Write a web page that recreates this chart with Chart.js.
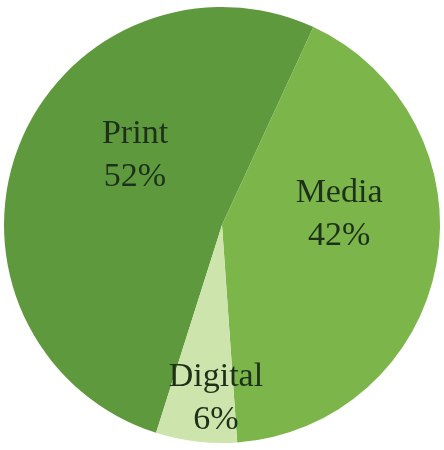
<!DOCTYPE html>
<html>
<head>
<meta charset="utf-8">
<script src="https://cdn.jsdelivr.net/npm/chart.js@4/dist/chart.umd.min.js"></script>
<style>
  html, body { margin: 0; padding: 0; background: #ffffff; }
  #wrap { width: 444px; height: 450px; }
</style>
</head>
<body>
<div id="wrap"><canvas id="pie"></canvas></div>
<script>
// Revenue share by channel
const categories = ["Print", "Media", "Digital"];
const shares = [52, 42, 6];
const sliceColors = ["#5f993d", "#7cb54a", "#cee4ad"];

// Where each label sits, as a fraction of the radius from the centre
const labelSpots = [
  { dx: -0.399, dy: -0.278 },
  { dx: 0.537, dy: -0.007 },
  { dx: -0.028, dy: 0.837 }
];

// Draws "Name" over "NN%" inside each slice
const sliceLabels = {
  id: "sliceLabels",
  afterDatasetsDraw(chart) {
    const ctx = chart.ctx;
    const arcs = chart.getDatasetMeta(0).data;
    ctx.save();
    ctx.font = "34px 'Liberation Serif', serif";
    ctx.fillStyle = "#1d3119";
    ctx.textAlign = "center";
    ctx.textBaseline = "alphabetic";
    arcs.forEach((arc, i) => {
      const r = arc.outerRadius;
      const x = arc.x + labelSpots[i].dx * r;
      const y = arc.y + labelSpots[i].dy * r;
      ctx.fillText(categories[i], x, y - 21.5);
      ctx.fillText(shares[i] + "%", x, y + 21.5);
    });
    ctx.restore();
  }
};

new Chart(document.getElementById("pie").getContext("2d"), {
  type: "pie",
  data: {
    labels: categories,
    datasets: [{
      data: shares,
      backgroundColor: sliceColors,
      borderWidth: 0
    }]
  },
  options: {
    responsive: true,
    maintainAspectRatio: false,
    animation: false,
    rotation: 197.6,
    layout: { padding: 4 },
    plugins: {
      legend: { display: false },
      tooltip: { enabled: false }
    }
  },
  plugins: [sliceLabels]
});
</script>
</body>
</html>
